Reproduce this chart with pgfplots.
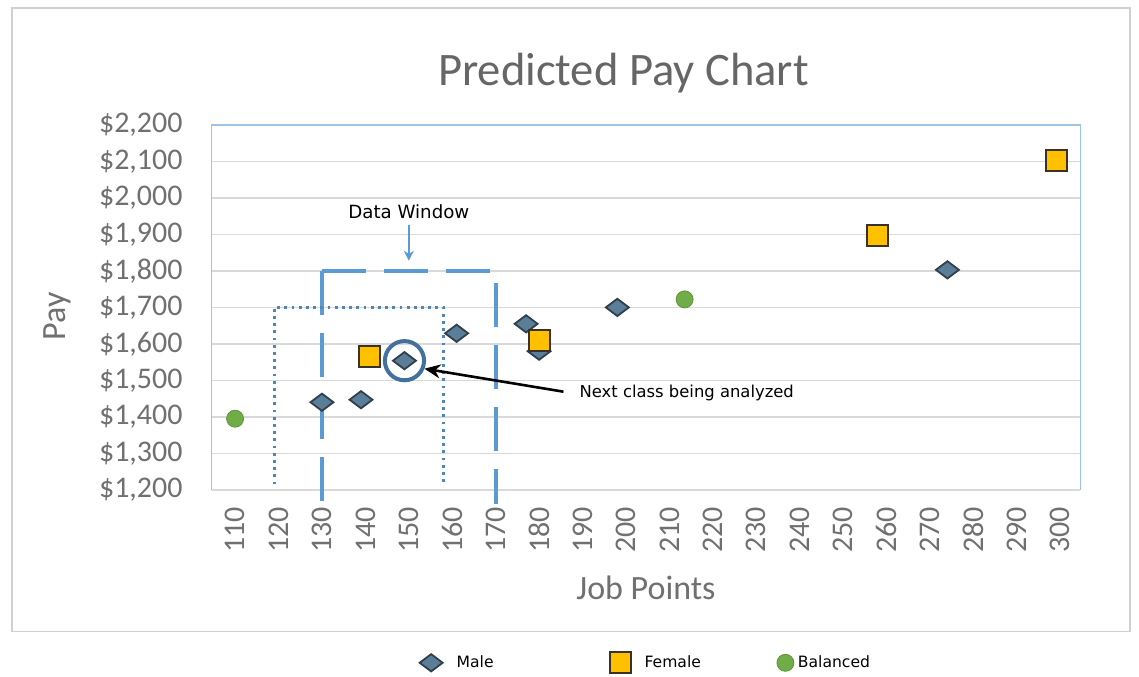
\documentclass[border=0pt]{standalone}
\usepackage{fontspec}
\setmainfont{Carlito}
\newfontfamily\tahoma{DejaVu Sans}
\usepackage{pgfplots}
\pgfplotsset{compat=1.18}
\usetikzlibrary{calc,arrows.meta}

\definecolor{gridgray}{HTML}{D9D9D9}
\definecolor{framegray}{HTML}{D0D0D0}
\definecolor{frameblue}{HTML}{9DC3E6}
\definecolor{tickgray}{HTML}{707070}
\definecolor{titlegray}{HTML}{666666}
\definecolor{dwblue}{HTML}{5B9BD5}
\definecolor{dotblue}{HTML}{4F86B8}
\definecolor{circblue}{HTML}{41719C}
\definecolor{malefill}{HTML}{5B7E98}
\definecolor{maledraw}{HTML}{2F3F4C}
\definecolor{femfill}{HTML}{FFC000}
\definecolor{femdraw}{HTML}{3A3226}
\definecolor{balfill}{HTML}{70AD47}

\begin{document}
\begin{tikzpicture}
\begin{axis}[
    scale only axis,
    width=434.5pt, height=182.5pt,
    xmin=104.6, xmax=304.6,
    ymin=1200, ymax=2200,
    xtick={110,120,...,300},
    ytick={1200,1300,...,2200},
    ymajorgrids,
    grid style={gridgray, line width=0.7pt},
    major tick length=0pt,
    axis line style={draw=none},
    clip=false,
    /pgf/number format/assume math mode=true,
    tick label style={font=\fontsize{15}{15}\selectfont, text=tickgray},
    xticklabel style={yshift=-5pt, rotate=90, anchor=east},
    yticklabel style={xshift=-11pt},
    yticklabel={\$\pgfmathprintnumber[fixed,precision=0,1000 sep={,}]{\tick}},
    xlabel={Job Points}, ylabel={Pay},
    every axis x label/.style={at={(axis description cs:0.5,-0.2685)}, anchor=center,
        font=\fontsize{17}{17}\selectfont, text=tickgray},
    every axis y label/.style={at={(axis description cs:-0.178,0.475)}, anchor=center,
        rotate=90, font=\fontsize{17}{17}\selectfont, text=tickgray},
    legend columns=3,
    legend style={draw=none, fill=none, at={(0.501,-0.474)}, anchor=center,
        font=\tahoma\fontsize{7.8}{9}\selectfont,
        /tikz/column 1/.style={column sep=5pt},
        /tikz/column 2/.style={column sep=56pt},
        /tikz/column 3/.style={column sep=5pt},
        /tikz/column 4/.style={column sep=36pt},
        /tikz/column 5/.style={column sep=0pt}},
]
% plot area frame
\draw[frameblue, line width=0.8pt] (rel axis cs:0,0) -- (rel axis cs:0,1) -- (rel axis cs:1,1) -- (rel axis cs:1,0);
\draw[gridgray, line width=0.8pt] (rel axis cs:0,0) -- (rel axis cs:1,0);
\coordinate (SW) at (rel axis cs:0,0);
\coordinate (NE) at (rel axis cs:1,1);

% data window
\draw[dwblue, line width=2pt, dash pattern=on 22pt off 9pt]
    (axis cs:130,1800) -- (axis cs:130,1163);
\draw[dwblue, line width=2pt, dash pattern=on 22pt off 9pt]
    (axis cs:130,1800) -- (axis cs:170,1800) -- (axis cs:170,1160);
\draw[dotblue, line width=1.4pt, dash pattern=on 1.4pt off 2.2pt]
    (axis cs:119,1215) -- (axis cs:119,1700) -- (axis cs:158,1700) -- (axis cs:158,1215);
\draw[dwblue, line width=1pt, -{Stealth[length=5pt,width=5pt]}]
    (axis cs:150,1925) -- (axis cs:150,1828);
\node[font=\tahoma\fontsize{9.1}{10}\selectfont] at (axis cs:150,1962) {Data Window};

% highlighted class
\draw[circblue, line width=2pt] (axis cs:149,1554) circle [radius=9.8pt];
\draw[black, line width=1.3pt, -{Stealth[length=8pt,width=7pt]}]
    (axis cs:185.6,1469) -- (axis cs:153.6,1532);
\node[anchor=west, font=\tahoma\fontsize{8.2}{9}\selectfont] at (axis cs:187.7,1465) {Next class being analyzed};

\addplot[only marks, mark=diamond*, mark size=5.75pt,
    mark options={rotate=90, fill=malefill, draw=maledraw, line width=0.9pt}]
    coordinates {(130,1440) (139,1447) (149,1554) (161,1629) (177,1655) (180,1580) (198,1700) (274,1803)};
\addlegendentry{Male}
\addplot[only marks, mark=square*, mark size=5.25pt,
    mark options={fill=femfill, draw=femdraw, line width=1pt}]
    coordinates {(141,1565) (180,1610) (258,1897) (299,2102)};
\addlegendentry{Female}
\addplot[only marks, mark=*, mark size=4.25pt,
    mark options={fill=balfill, draw=balfill!85!black, line width=0.4pt}]
    coordinates {(110,1395) (213.5,1722)};
\addlegendentry{Balanced}
\end{axis}

\draw[framegray, line width=0.7pt] ($(SW)+(-99.85pt,-71pt)$) rectangle ($(NE)+(24.85pt,58.5pt)$);
\node[font=\fontsize{23.3}{25}\selectfont, text=titlegray] at ($(SW)!0.474!(SW-|NE)+(0,182.5pt+26pt)$) {Predicted Pay Chart};
\pgfresetboundingbox
\path[use as bounding box] ($(SW)+(-105.85pt,-93.5pt)$) rectangle ($(NE)+(29.35pt,62.5pt)$);
\end{tikzpicture}
\end{document}
